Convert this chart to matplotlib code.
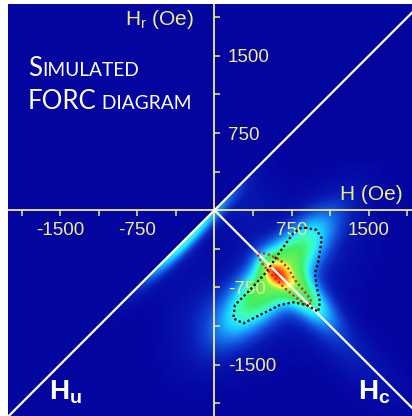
import numpy as np
import matplotlib
matplotlib.use("Agg")
import matplotlib.pyplot as plt
from matplotlib.colors import LinearSegmentedColormap

# ---------------- data (Oe) ----------------
x_major = [-1500, -750, 750, 1500]
x_labels = ["-1500", "-750", "750", "1500"]
y_major = [-1500, -750, 750, 1500]
y_labels = ["-1500", "-750", "750", "1500"]
minor_ticks = [-1875, -1125, -375, 375, 1125, 1875]

# FORC density components in (Hc, Hu) coordinates
# core, upper Hu arm, lower Hu arm, Hc arm, halo, Hc tail, lower-left halo,
# narrow ridge, broad ridge, near-origin glow
comp_Hc = [610, 590, 650, 820, 680, 1250, 420, 0, 0, 140]
comp_Hu = [-10, 150, -190, 25, -40, -30, -560, -250, -400, 200]
comp_sHc = [70, 100, 110, 200, 230, 350, 130, 45, 110, 120]
comp_sHu = [40, 300, 300, 75, 430, 110, 200, 300, 250, 150]
comp_amp = [0.45, 0.33, 0.33, 0.40, 0.08, 0.08, 0.05, 0.34, 0.06, 0.05]

# dotted contours (H, Hr)
black_H = [880, 993, 1042, 1025, 1009, 977, 993, 1025, 1009, 896, 766, 637, 474,
           280, 183, 199, 345, 507, 637, 766, 831]
black_Hr = [-170, -192, -273, -403, -501, -613, -744, -889, -987, -921, -895, -921,
            -1002, -1099, -1051, -921, -776, -598, -403, -225, -176]
red_H = [426, 539, 637, 717, 782, 863, 928, 945, 880, 782, 669, 572, 474, 426]
red_Hr = [-403, -435, -484, -565, -678, -776, -856, -905, -915, -841, -744, -646,
          -533, -452]

diag_H = [-2100, 2100]
hc_H = [0, 2100]

# ---------------- style ----------------
W, HGT = 412, 416
bg = (0.02, 0.02, 0.63)
yellow = "#f0ec8c"
plt.rcParams["font.family"] = ["Liberation Sans", "DejaVu Sans"]
plt.rcParams["mathtext.fontset"] = "custom"
plt.rcParams["mathtext.rm"] = "Liberation Sans"
plt.rcParams["mathtext.bf"] = "Liberation Sans:bold"

cmap = LinearSegmentedColormap.from_list("forc", [
    (0.00, bg),
    (0.05, (0.03, 0.10, 0.70)),
    (0.10, (0.06, 0.25, 0.82)),
    (0.16, (0.10, 0.50, 0.95)),
    (0.22, (0.10, 0.80, 1.00)),
    (0.27, (0.20, 0.95, 0.95)),
    (0.32, (0.25, 1.00, 0.65)),
    (0.38, (0.25, 0.93, 0.40)),
    (0.55, (0.50, 0.95, 0.30)),
    (0.65, (1.00, 1.00, 0.30)),
    (0.80, (1.00, 0.55, 0.10)),
    (1.00, (0.95, 0.10, 0.05)),
])

fig = plt.figure(figsize=(W / 100, HGT / 100), dpi=100)
ax = fig.add_axes([8 / W, 0, 404 / W, 412 / HGT])
xlim = (-2007, 1920)
ylim = (-2000, 2004)
ax.set_xlim(*xlim)
ax.set_ylim(*ylim)
ax.set_facecolor(bg)

# density field
gx = np.linspace(xlim[0], xlim[1], 600)
gy = np.linspace(ylim[0], ylim[1], 600)
HH, RR = np.meshgrid(gx, gy)
Hc = (HH - RR) / 2
Hu = (HH + RR) / 2
field = np.zeros_like(HH)
for c, u, sc, su, a in zip(comp_Hc, comp_Hu, comp_sHc, comp_sHu, comp_amp):
    field += a * np.exp(-0.5 * ((Hc - c) / sc) ** 2 - 0.5 * ((Hu - u) / su) ** 2)
field[Hc < 0] = 0
ax.imshow(field, extent=[xlim[0], xlim[1], ylim[0], ylim[1]], origin="lower",
          cmap=cmap, vmin=0, vmax=field.max(), interpolation="bilinear",
          aspect="auto", zorder=0)

# diagonal lines
ax.plot(diag_H, diag_H, color="white", lw=1.6, zorder=3)
ax.plot(hc_H, [-v for v in hc_H], color="white", lw=1.6, zorder=3)

# dotted contours
ax.plot(black_H + black_H[:1], black_Hr + black_Hr[:1], color="black", lw=1.6,
        linestyle=(0, (1, 1.2)), dash_capstyle="butt", zorder=4)
ax.plot(red_H + red_H[:1], red_Hr + red_Hr[:1], color="#e02020", lw=1.6,
        linestyle=(0, (1, 1.2)), dash_capstyle="butt", zorder=4)

# axes through origin
for s in ["top", "left"]:
    ax.spines[s].set_visible(False)
ax.spines["bottom"].set_position(("data", 0))
ax.spines["right"].set_position(("data", 0))
for s in ["bottom", "right"]:
    ax.spines[s].set_color(yellow)
    ax.spines[s].set_linewidth(1.3)
    ax.spines[s].set_zorder(2)
ax.xaxis.set_ticks_position("bottom")
ax.yaxis.set_ticks_position("right")
ax.set_xticks(x_major)
ax.set_xticklabels(x_labels)
ax.set_yticks(y_major)
ax.set_yticklabels(y_labels)
ax.set_xticks(minor_ticks, minor=True)
ax.set_yticks(minor_ticks, minor=True)
ax.tick_params(which="both", direction="out", length=4.5, width=1.1, colors=yellow,
               labelsize=13.5)
ax.tick_params(axis="x", pad=4)
ax.tick_params(axis="y", pad=5)

ax.text(1528, 148, "H (Oe)", ha="center", va="center", color=yellow, fontsize=15)
ax.text(-539, 1849, r"H$_\mathregular{r}$ (Oe)", ha="center", va="center",
        color=yellow, fontsize=15)
ax.text(-1609, -1835, r"$\mathbf{H_u}$", ha="left", va="baseline", color="white",
        fontsize=20, zorder=5)
ax.text(1398, -1835, r"$\mathbf{H_c}$", ha="left", va="baseline", color="white",
        fontsize=20, zorder=5)

# small-caps title
renderer = fig.canvas.get_renderer()


def smallcaps(x0, ybase_img, parts):
    x = x0
    for txt, fs in parts:
        t = fig.text(x / W, (HGT - ybase_img) / HGT, txt, fontsize=fs, family="Lato",
                     color="white", ha="left", va="baseline", zorder=6)
        bb = t.get_window_extent(renderer=renderer)
        x = bb.x1


smallcaps(28, 76, [("S", 18.5), ("IMULATED", 13.8)])
smallcaps(28, 109.3, [("FORC", 18.5), (" DIAGRAM", 13.8)])

fig.savefig("out.png", dpi=100, facecolor="white")
